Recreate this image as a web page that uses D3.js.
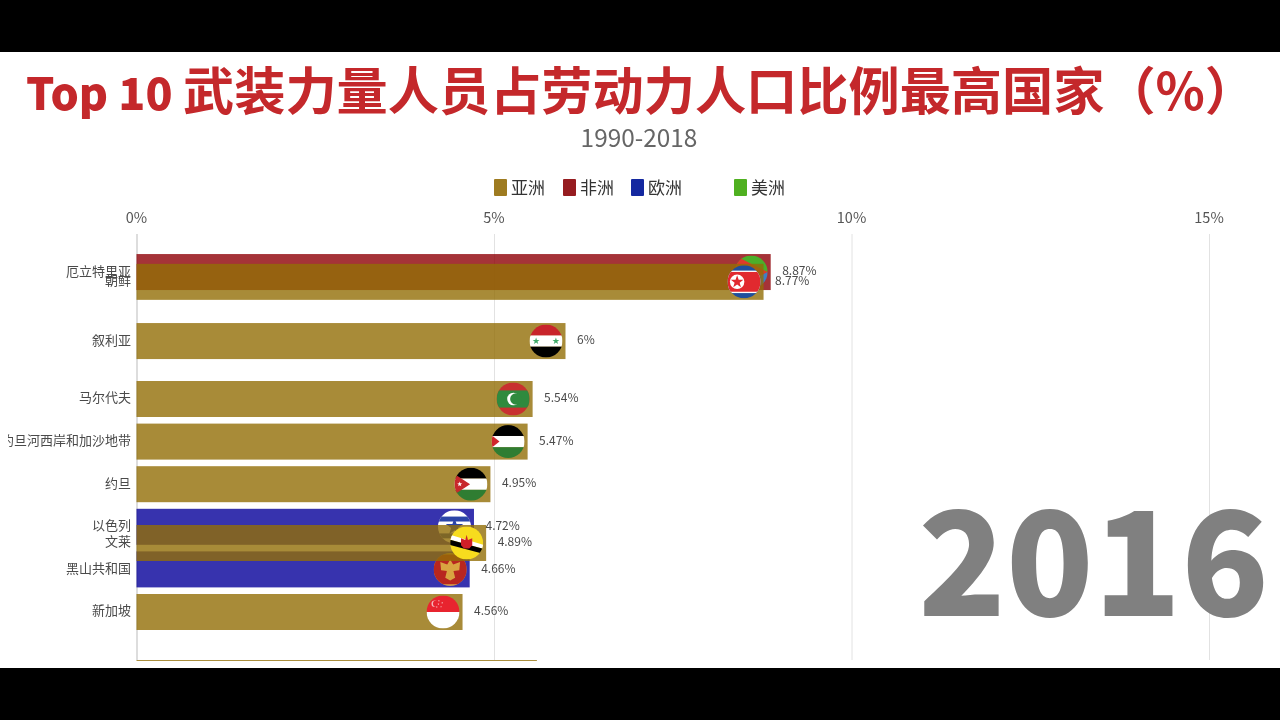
<!DOCTYPE html>
<html><head><meta charset="utf-8">
<style>html,body{margin:0;padding:0;background:#000;overflow:hidden}svg{display:block;filter:blur(0.4px)}
text{font-family:"Noto Sans CJK SC","Noto Sans",sans-serif}</style>
<script src="https://cdn.jsdelivr.net/npm/d3@7"></script></head><body><div id="c"></div>
<script>
const titleLatin = "Top 10";
const titleCjk = "武装力量人员占劳动力人口比例最高国家（%）";
const subtitleText = "1990-2018";
const yearText = "2016";
const continents = ["亚洲","非洲","欧洲","美洲"];
const continentColors = ["#9e7b20","#961c20","#1428a0","#4fb020"];
const barColors = ["#926e06","#8f0006","#05009a","#3f9f10"];
const legendX = [494,563,631,734];
const ticks = [0,5,10,15];
// Drawn back to front
const countries = ["厄立特里亚","朝鲜","叙利亚","马尔代夫","约旦河西岸和加沙地带","约旦","以色列","黑山共和国","文莱","新加坡",""];
const flagKeys = ["er","kp","sy","mv","ps","jo","il","me","bn","sg",null];
const values = [8.87,8.77,6,5.54,5.47,4.95,4.72,4.66,4.89,4.56,5.6];
const ranks = [0.02,0.25,1.64,3,4,5,6,7,6.38,8,9.55];
const contOf = ["非洲","亚洲","亚洲","亚洲","亚洲","亚洲","欧洲","欧洲","亚洲","亚洲","亚洲"];

const W=1280,H=720;
const svg=d3.select("#c").append("svg").attr("width",W).attr("height",H);
svg.append("rect").attr("width",W).attr("height",H).attr("fill","#fff");
const defs=svg.append("defs");
defs.append("clipPath").attr("id","flagClip").append("circle").attr("r",1);
defs.append("clipPath").attr("id","plotClip").append("rect").attr("x",8).attr("y",234).attr("width",1272).attr("height",427);

const x=d3.scaleLinear().domain([0,15]).range([136.5,1209]);
const y=d3.scaleLinear().domain([3,8]).range([399,612]);
const color=d3.scaleOrdinal().domain(continents).range(continentColors);
const barColor=d3.scaleOrdinal().domain(continents).range(barColors);
const barH=36, flagR=16.5, flagOff=19.5;

// title
svg.append("text").attr("x",26).attr("y",109.5).attr("font-size",44.5).attr("font-weight",900).attr("fill","#c4282b").text(titleLatin);
svg.append("text").attr("x",183).attr("y",110).attr("font-size",51.2).attr("font-weight",700).attr("fill","#c4282b").text(titleCjk);
svg.append("text").attr("x",639).attr("y",147).attr("text-anchor","middle").attr("font-size",24.4).attr("fill","#666").text(subtitleText);

// legend
const lg=svg.append("g").selectAll("g").data(continents).join("g").attr("transform",(d,i)=>`translate(${legendX[i]},0)`);
lg.append("rect").attr("y",179).attr("width",13).attr("height",17).attr("rx",1).attr("fill",d=>color(d));
lg.append("text").attr("x",17).attr("y",193.5).attr("font-size",17).attr("fill","#333").text(d=>d);

// axis
const axis=d3.axisTop(x).tickValues(ticks).tickFormat(d=>d+"%").tickSize(-426).tickPadding(9);
const ax=svg.append("g").attr("transform","translate(0,234)").call(axis);
ax.select(".domain").remove();
ax.selectAll("line").attr("stroke",d=>d===0?"#bbb":"#e2e2e2");
ax.selectAll("text").attr("font-size",14.5).attr("fill","#555").attr("y",-11.5).attr("dx",-.5)
  .style("font-family",'"Noto Sans CJK SC","Noto Sans",sans-serif');

// big year
svg.append("text").attr("x",1269).attr("y",616).attr("text-anchor","end").attr("font-size",144).attr("font-weight",900).attr("fill","#808080").text(yearText);

function star(cx,cy,r,fill,g){
  const pts=d3.range(10).map(i=>{const a=-Math.PI/2+i*Math.PI/5,q=i%2?r*0.4:r;return [cx+q*Math.cos(a),cy+q*Math.sin(a)].join(",")}).join(" ");
  g.append("polygon").attr("points",pts).attr("fill",fill);
}
function R(g,x0,y0,w,h,f){g.append("rect").attr("x",x0).attr("y",y0).attr("width",w).attr("height",h).attr("fill",f);}
const flagDraw={
  er(g){R(g,-1,-1,2,1,"#4caf2a");R(g,-1,0,2,1,"#3f7fc4");g.append("polygon").attr("points","-1,-1 1,0 -1,1").attr("fill","#e03a2a");},
  kp(g){R(g,-1,-1,2,2,"#1f4f9c");R(g,-1,-.68,2,1.36,"#fff");R(g,-1,-.6,2,1.2,"#e1292f");g.append("circle").attr("cx",-.42).attr("r",.44).attr("fill","#fff");star(-.42,0,.4,"#e1292f",g);},
  sy(g){R(g,-1,-1,2,.68,"#c8242b");R(g,-1,-.34,2,.68,"#fff");R(g,-1,.34,2,.66,"#000");star(-.6,0,.22,"#3fa968",g);star(.6,0,.22,"#3fa968",g);},
  mv(g){R(g,-1,-1,2,2,"#c8302f");R(g,-1,-.52,2,1.04,"#2f8a3e");g.append("circle").attr("cx",.02).attr("r",.38).attr("fill","#fff");g.append("circle").attr("cx",.17).attr("r",.35).attr("fill","#2f8a3e");},
  ps(g){R(g,-1,-1,2,.66,"#000");R(g,-1,-.34,2,.68,"#fff");R(g,-1,.34,2,.66,"#2f7d32");g.append("polygon").attr("points","-1,-.38 -.52,0 -1,.38").attr("fill","#d0262c");},
  jo(g){R(g,-1,-1,2,.66,"#000");R(g,-1,-.34,2,.68,"#fff");R(g,-1,.34,2,.66,"#2f7d32");g.append("polygon").attr("points","-1,-.62 -.05,0 -1,.62").attr("fill","#c8282c");star(-.68,0,.16,"#fff",g);},
  il(g){R(g,-1,-1,2,2,"#fff");R(g,-1,-.62,2,.3,"#2c45a8");R(g,-1,.4,2,.3,"#2c45a8");g.append("path").attr("d",d3.symbol(d3.symbolStar,.35)()).attr("fill","#2c45a8");},
  me(g){R(g,-1,-1,2,2,"#d8a44a");R(g,-1,-.9,2,1.8,"#b8261f");
    g.append("path").attr("d","M0,-.6 L.18,-.3 L.6,-.45 L.55,.05 L.2,.1 L.3,.5 L0,.68 L-.3,.5 L-.2,.1 L-.55,.05 L-.6,-.45 L-.18,-.3Z").attr("fill","#d9a441");},
  bn(g){R(g,-1,-1,2,2,"#f7dc1e");g.append("polygon").attr("points","-1,-.5 1,.1 1,.35 -1,-.2").attr("fill","#fff");g.append("polygon").attr("points","-1,-.2 1,.35 1,.65 -1,.12").attr("fill","#000");
    g.append("path").attr("d","M0,-.5 L.08,-.18 L.34,-.28 L.34,.14 L.16,.34 L-.16,.34 L-.34,.14 L-.34,-.28 L-.08,-.18Z").attr("fill","#d01f28");},
  sg(g){R(g,-1,-1,2,1,"#e8242f");R(g,-1,0,2,1,"#fff");g.append("circle").attr("cx",-.5).attr("cy",-.5).attr("r",.2).attr("fill","#f5b5b8");g.append("circle").attr("cx",-.42).attr("cy",-.5).attr("r",.19).attr("fill","#e8242f");
    [[-.25,-.68],[-.05,-.55],[-.12,-.32],[-.38,-.3],[-.28,-.48]].forEach(p=>star(p[0],p[1],.06,"#f8d0d2",g));}
};

const rows=d3.range(countries.length);
const plot=svg.append("g").attr("clip-path","url(#plotClip)");
const grp=plot.selectAll("g.row").data(rows).join("g").attr("class","row");
grp.append("rect").attr("x",x(0)).attr("y",i=>y(ranks[i])-barH/2).attr("width",i=>x(values[i])-x(0)).attr("height",barH)
   .attr("fill",i=>barColor(contOf[i])).attr("fill-opacity",.8);
grp.filter(i=>flagKeys[i]).each(function(i){
  const g=d3.select(this).append("g").attr("transform",`translate(${x(values[i])-flagOff},${y(ranks[i])}) scale(${flagR})`)
    .append("g").attr("clip-path","url(#flagClip)");
  flagDraw[flagKeys[i]](g);
});
const lab=grp.filter(i=>countries[i]);
lab.append("text").attr("x",131).attr("y",i=>y(ranks[i])+.2).attr("dy","-.02em").attr("dominant-baseline","middle").attr("text-anchor","end").attr("font-size",13).attr("fill","#4a4a4a").text(i=>countries[i]);
lab.append("text").attr("x",i=>x(values[i])+11.5).attr("y",i=>y(ranks[i])+.2).attr("dy","-.02em").attr("dominant-baseline","middle").attr("font-size",12).attr("fill","#4a4a4a").text(i=>values[i]+"%");

// video letterbox
svg.append("rect").attr("width",W).attr("height",52).attr("fill","#000");
svg.append("rect").attr("y",668).attr("width",W).attr("height",52).attr("fill","#000");
</script></body></html>
